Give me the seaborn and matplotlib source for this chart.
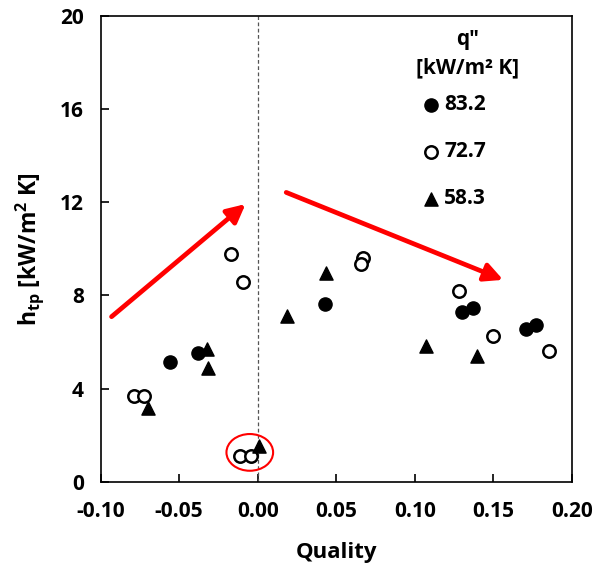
import matplotlib
matplotlib.use("Agg")
import matplotlib.pyplot as plt
import seaborn as sns
import pandas as pd
from matplotlib.patches import Ellipse, FancyArrowPatch

# ---- data ----
x_832 = [-0.0559, -0.0379, 0.0428, 0.1304, 0.1372, 0.1707, 0.1771]
y_832 = [5.16, 5.55, 7.64, 7.27, 7.48, 6.55, 6.74]

x_727 = [-0.0786, -0.0722, -0.0171, -0.0092, -0.0113, -0.0043, 0.0672, 0.0661, 0.1281, 0.1499, 0.1856]
y_727 = [3.69, 3.69, 9.77, 8.57, 1.12, 1.12, 9.60, 9.36, 8.20, 6.28, 5.64]

x_583 = [-0.0701, -0.0325, -0.0315, 0.0010, 0.0184, 0.0438, 0.1075, 0.1397]
y_583 = [3.19, 5.69, 4.91, 1.55, 7.12, 8.96, 5.84, 5.41]

series_labels = ["83.2", "72.7", "58.3"]
x_ticks = [-0.10, -0.05, 0.00, 0.05, 0.10, 0.15, 0.20]
y_ticks = [0, 4, 8, 12, 16, 20]

sns.set_theme(style="white")
plt.rcParams["font.family"] = ["Open Sans", "DejaVu Sans"]
plt.rcParams["text.color"] = "black"
plt.rcParams["mathtext.fontset"] = "custom"
plt.rcParams["mathtext.rm"] = "Open Sans:bold"
plt.rcParams["mathtext.bf"] = "Open Sans:bold"

FS = 15

fig = plt.figure(figsize=(5.95, 5.68), dpi=100)
ax = fig.add_axes([0.169, 0.1514, 0.792, 0.821])

df1 = pd.DataFrame({"x": x_832, "y": y_832})
df2 = pd.DataFrame({"x": x_727, "y": y_727})
df3 = pd.DataFrame({"x": x_583, "y": y_583})

sns.scatterplot(data=df1, x="x", y="y", ax=ax, marker="o", color="black",
                edgecolor="black", s=90, linewidth=1, label=series_labels[0], zorder=3)
sns.scatterplot(data=df2, x="x", y="y", ax=ax, marker="o", color="white",
                edgecolor="black", s=80, linewidth=1.8, label=series_labels[1], zorder=3)
sns.scatterplot(data=df3, x="x", y="y", ax=ax, marker="^", color="black",
                edgecolor="black", s=90, linewidth=1, label=series_labels[2], zorder=3)

ax.axvline(0, color="#555555", linestyle=(0, (3, 2)), linewidth=0.9, zorder=1)

# arrows
for (x0, y0), (x1, y1) in [((-0.093, 7.09), (-0.0077, 11.92)), ((0.0182, 12.42), (0.1563, 8.67))]:
    arr = FancyArrowPatch((x0, y0), (x1, y1), arrowstyle="-|>,head_length=11,head_width=5.5",
                          color="#ff0000", linewidth=3.4, mutation_scale=1, zorder=4,
                          shrinkA=0, shrinkB=0)
    ax.add_patch(arr)

ell = Ellipse((-0.005, 1.27), 0.0297, 1.575, fill=False, edgecolor="#ff0000", linewidth=1.5, zorder=4)
ax.add_patch(ell)

ax.set_xlim(-0.10, 0.20)
ax.set_ylim(0, 20)
ax.set_xticks(x_ticks)
ax.set_xticklabels([f"{v:.2f}" for v in x_ticks])
ax.set_yticks(y_ticks)
ax.tick_params(axis="x", pad=14)
ax.tick_params(axis="y", pad=12)
ax.tick_params(axis="both", direction="in", length=6, width=1.2, labelsize=FS,
               bottom=True, left=True, top=False, right=False, color="black")
for lab in ax.get_xticklabels() + ax.get_yticklabels():
    lab.set_fontweight("bold")
    lab.set_color("black")

for sp in ax.spines.values():
    sp.set_color("black")
    sp.set_linewidth(1.2)

ax.set_xlabel("Quality", fontsize=FS + 1, fontweight="bold", color="black", labelpad=14)
ax.set_ylabel(r"h$_{\mathregular{tp}}$ [kW/m$^{\mathregular{2}}$ K]", fontsize=FS + 1.5,
              fontweight="bold", color="black", labelpad=10)

# legend title as text
ax.text(0.779, 0.948, "q\u2033", transform=ax.transAxes, ha="center", va="center",
        fontsize=FS, fontweight="bold", color="black")
ax.text(0.779, 0.888, "[kW/m\u00b2 K]", transform=ax.transAxes, ha="center", va="center",
        fontsize=FS, fontweight="bold", color="black")

leg = ax.legend(loc="upper left", bbox_to_anchor=(0.674, 0.832),
                frameon=False, fontsize=FS, labelspacing=1.25,
                handletextpad=0.05, handlelength=1.2, borderpad=0.0, borderaxespad=0)
for t in leg.get_texts():
    t.set_fontweight("bold")
    t.set_color("black")

fig.savefig("out.png", dpi=100)
